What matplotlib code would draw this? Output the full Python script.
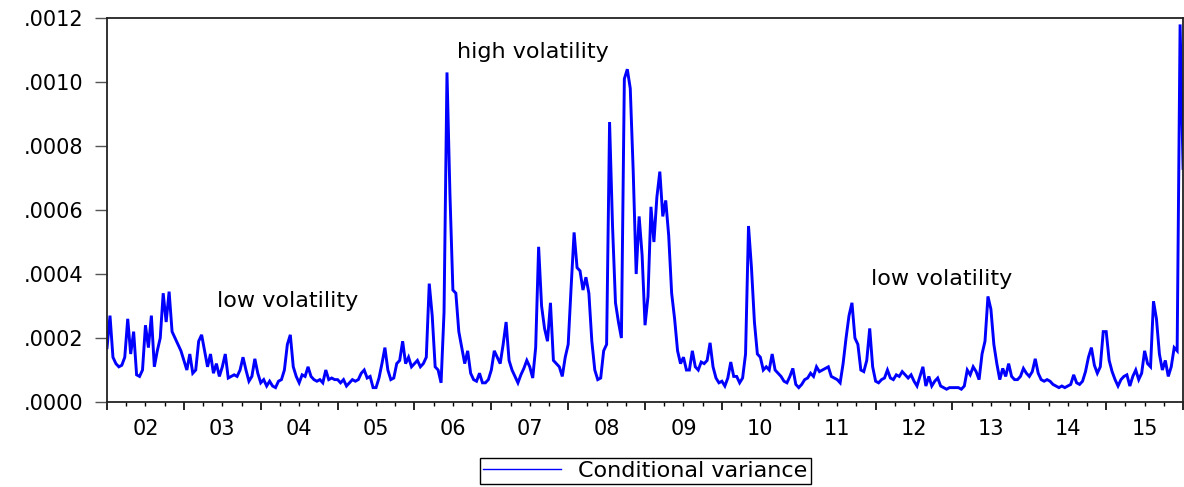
import matplotlib
matplotlib.use("Agg")
import matplotlib.pyplot as plt
from matplotlib.lines import Line2D
import numpy as np

# --- Data: conditional variance, biweekly, in units of 1e-4 ---
var_2002 = [1.7, 2.7, 1.4, 1.2, 1.1, 1.15, 1.4, 2.6, 1.5, 2.2, 0.85, 0.8, 1.0,
            2.4, 1.7, 2.7, 1.1, 1.6, 2.0, 3.4, 2.5, 3.45, 2.2, 2.0, 1.8, 1.6]
var_2003 = [1.3, 1.0, 1.5, 0.9, 1.0, 1.9, 2.1, 1.6, 1.1, 1.5, 0.9, 1.2, 0.8,
            1.1, 1.5, 0.75, 0.8, 0.85, 0.8, 1.0, 1.4, 1.0, 0.65, 0.8, 1.35, 0.9]
var_2004 = [0.6, 0.7, 0.5, 0.65, 0.5, 0.45, 0.65, 0.7, 1.0, 1.8, 2.1, 1.1, 0.8,
            0.6, 0.85, 0.8, 1.1, 0.8, 0.7, 0.65, 0.7, 0.6, 1.0, 0.7, 0.75, 0.7]
var_2005 = [0.7, 0.6, 0.7, 0.5, 0.6, 0.7, 0.65, 0.7, 0.9, 1.0, 0.75, 0.8, 0.45,
            0.45, 0.75, 1.2, 1.7, 1.0, 0.7, 0.75, 1.2, 1.3, 1.9, 1.2, 1.4, 1.1]
var_2006 = [1.2, 1.3, 1.1, 1.2, 1.4, 3.7, 2.7, 1.1, 1.0, 0.6, 2.8, 10.3, 6.5,
            3.5, 3.4, 2.2, 1.7, 1.2, 1.6, 0.9, 0.7, 0.65, 0.9, 0.6, 0.6, 0.7]
var_2007 = [1.0, 1.6, 1.4, 1.2, 1.8, 2.5, 1.3, 1.0, 0.8, 0.6, 0.85, 1.05, 1.3,
            1.1, 0.75, 1.7, 4.85, 3.0, 2.3, 1.9, 3.1, 1.3, 1.2, 1.1, 0.8, 1.4]
var_2008 = [1.8, 3.6, 5.3, 4.2, 4.1, 3.5, 3.9, 3.4, 1.9, 1.0, 0.7, 0.75, 1.6,
            1.8, 8.75, 5.5, 3.1, 2.5, 2.0, 10.1, 10.4, 9.8, 7.2, 4.0, 5.8, 4.6]
var_2009 = [2.4, 3.3, 6.1, 5.0, 6.4, 7.2, 5.8, 6.3, 5.2, 3.4, 2.6, 1.6, 1.2,
            1.4, 1.0, 1.0, 1.6, 1.1, 1.0, 1.25, 1.2, 1.3, 1.85, 1.1, 0.75, 0.6]
var_2010 = [0.65, 0.5, 0.75, 1.25, 0.8, 0.8, 0.6, 0.75, 1.5, 5.5, 4.2, 2.5, 1.5,
            1.4, 1.0, 1.1, 1.0, 1.5, 1.0, 0.9, 0.8, 0.65, 0.6, 0.8, 1.05, 0.55]
var_2011 = [0.45, 0.55, 0.7, 0.75, 0.9, 0.8, 1.1, 0.95, 1.0, 1.05, 1.1, 0.8, 0.75,
            0.7, 0.6, 1.2, 2.0, 2.7, 3.1, 2.0, 1.8, 1.0, 0.95, 1.3, 2.3, 1.1]
var_2012 = [0.65, 0.6, 0.7, 0.75, 1.0, 0.75, 0.7, 0.85, 0.8, 0.95, 0.85, 0.75, 0.85,
            0.65, 0.5, 0.8, 1.1, 0.5, 0.8, 0.5, 0.65, 0.75, 0.5, 0.45, 0.4, 0.45]
var_2013 = [0.45, 0.45, 0.45, 0.4, 0.5, 1.0, 0.85, 1.1, 0.95, 0.7, 1.5, 1.9, 3.3,
            2.9, 1.8, 1.2, 0.7, 1.05, 0.8, 1.2, 0.8, 0.7, 0.7, 0.8, 1.05, 0.9]
var_2014 = [0.8, 0.95, 1.35, 0.9, 0.7, 0.65, 0.7, 0.65, 0.55, 0.5, 0.45, 0.5, 0.45,
            0.5, 0.55, 0.85, 0.6, 0.55, 0.65, 0.95, 1.4, 1.7, 1.15, 0.9, 1.1, 2.2]
var_2015 = [2.2, 1.3, 0.95, 0.7, 0.5, 0.7, 0.8, 0.85, 0.5, 0.8, 1.0, 0.7, 0.9,
            1.6, 1.2, 1.1, 3.15, 2.6, 1.5, 1.0, 1.3, 0.8, 1.1, 1.7, 1.6, 11.8, 7.3]

years = list(range(2002, 2016))
year_labels = [f"{y % 100:02d}" for y in years]
y_ticks = [0.0, 0.0002, 0.0004, 0.0006, 0.0008, 0.0010, 0.0012]
y_tick_labels = [".0000", ".0002", ".0004", ".0006", ".0008", ".0010", ".0012"]

series = np.concatenate([var_2002, var_2003, var_2004, var_2005, var_2006,
                         var_2007, var_2008, var_2009, var_2010, var_2011,
                         var_2012, var_2013, var_2014, var_2015]) * 1e-4
t = years[0] + np.arange(len(series)) / 26.0

# --- Plot ---
plt.rcParams['font.family'] = ['DejaVu Sans']
fig = plt.figure(figsize=(11.84, 4.87), dpi=100)
ax = fig.add_axes([0.0904, 0.1745, 0.9088, 0.7885])

ax.plot(t, series, color='#0000ff', linewidth=2.1, solid_joinstyle='miter')

ax.set_xlim(2002, 2016)
ax.set_ylim(0, 0.0012)

# year boundaries as long ticks, quarters as short ticks, labels mid-year
ax.set_xticks(years + [2016])
ax.set_xticklabels([])
quarters = [y + q / 4 for y in years for q in (1, 2, 3)]
ax.set_xticks(quarters, minor=True)
ax.set_xticklabels([year_labels[i // 3] if i % 3 == 1 else "" for i in range(len(quarters))],
                   minor=True)
ax.tick_params(axis='x', which='major', direction='out', length=6, width=1.2, color='black')
ax.tick_params(axis='x', which='minor', direction='out', length=3, width=1.0, color='black',
               labelsize=15, pad=9)

ax.set_yticks(y_ticks)
ax.set_yticklabels(y_tick_labels)
ax.tick_params(axis='y', direction='out', length=9, width=1.0, color='#555555',
               labelsize=15, pad=8)

for side in ('left', 'bottom', 'top', 'right'):
    ax.spines[side].set_linewidth(1.3)
    ax.spines[side].set_color('#222222')

ax.text(2007.54, 0.001094, "high volatility", fontsize=16, ha='center', va='center')
ax.text(2004.35, 0.000316, "low volatility", fontsize=16, ha='center', va='center')
ax.text(2012.86, 0.000384, "low volatility", fontsize=16, ha='center', va='center')

handle = Line2D([], [], color='#0000ff', linewidth=1.0)
fig.legend([handle], ["Conditional variance"], loc='center', bbox_to_anchor=(0.545, 0.033),
           fontsize=16, frameon=True, fancybox=False, edgecolor='black', framealpha=1,
           handlelength=3.5, borderpad=0.15, handletextpad=0.8)

fig.savefig("out.png", dpi=100)
